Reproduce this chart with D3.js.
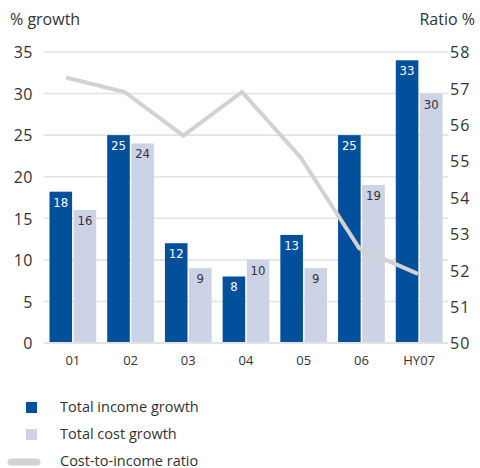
<!DOCTYPE html>
<html><head><meta charset="utf-8">
<script src="https://cdn.jsdelivr.net/npm/d3@7"></script>
<style>
body{margin:0;background:#fff;}
svg{display:block;}
</style></head>
<body>
<svg id="chart" width="480" height="468"></svg>
<script>
const categories = ["01","02","03","04","05","06","HY07"];
const incomeGrowth = [18.2,25,12,8,13,25,34];
const incomeLabels = ["18","25","12","8","13","25","33"];
const costGrowth = [16,24,9,10,9,19,30];
const costLabels = ["16","24","9","10","9","19","30"];
const costIncomeRatio = [57.3,56.9,55.7,56.9,55.1,52.6,51.9];
const leftTicks = [0,5,10,15,20,25,30,35];
const rightTicks = [50,51,52,53,54,55,56,57,58];
const legendLabels = ["Total income growth","Total cost growth","Cost-to-income ratio"];

const C_INCOME = "#00509b", C_COST = "#ccd3e6", C_LINE = "#d2d2d2", C_GRID = "#e3e3e3", C_TEXT = "#333";
const FONT = "'Open Sans', 'DejaVu Sans', sans-serif";
const NARROW = "'Liberation Sans Narrow','DejaVu Sans Condensed', sans-serif";

const svg = d3.select("#chart");
const pLeft = 44, pRight = 448, pTop = 52, pBottom = 343;

const x = d3.scaleBand().domain(categories).range([pLeft, pRight]).paddingInner(0).paddingOuter(0);
const sub = d3.scaleBand().domain(["income","cost"]).range([5.5, x.bandwidth()-5.5]).paddingInner(0.065);
const y = d3.scaleLinear().domain([0,35]).range([pBottom, pTop]);
const y2 = d3.scaleLinear().domain([50,58]).range([pBottom, pTop]);
const xl = d3.scalePoint().domain(categories).range([pLeft+22, pRight-30]);

// grid
svg.append("g").selectAll("line").data(leftTicks).join("line")
  .attr("x1", pLeft).attr("x2", pRight)
  .attr("y1", d=>y(d)).attr("y2", d=>y(d))
  .attr("stroke", C_GRID).attr("stroke-width", 1.6);

// left axis
const ax = d3.axisLeft(y).tickValues(leftTicks).tickSize(0).tickPadding(10);
const gl = svg.append("g").attr("transform", `translate(${pLeft},0)`).call(ax);
gl.select(".domain").remove();
gl.selectAll("text").attr("font-family", FONT).attr("font-size", 16).attr("fill", C_TEXT).attr("x", -11).attr("dy","0.36em").attr("letter-spacing", 0.5);

// right axis
const ax2 = d3.axisRight(y2).tickValues(rightTicks).tickSize(0).tickPadding(8);
const gr = svg.append("g").attr("transform", `translate(${pRight},0)`).call(ax2);
gr.select(".domain").remove();
gr.selectAll("text").attr("font-family", FONT).attr("font-size", 16).attr("fill", C_TEXT).attr("x", 2).attr("dy","0.36em").attr("letter-spacing", 1);

// bottom axis
const ax3 = d3.axisBottom(x).tickSize(0).tickPadding(10);
const gb = svg.append("g").attr("transform", `translate(0,${pBottom})`).call(ax3);
gb.select(".domain").remove();
gb.selectAll("text").attr("font-family", FONT).attr("font-size", 13).attr("fill", C_TEXT).attr("dy","0.9em");

// bars
const groups = svg.append("g").selectAll("g").data(categories).join("g")
  .attr("transform", d=>`translate(${x(d)},0)`);
groups.append("rect").attr("x", sub("income")).attr("width", sub.bandwidth())
  .attr("y", (d,i)=>y(incomeGrowth[i])).attr("height", (d,i)=>y(0)-y(incomeGrowth[i])).attr("fill", C_INCOME);
groups.append("rect").attr("x", sub("cost")).attr("width", sub.bandwidth())
  .attr("y", (d,i)=>y(costGrowth[i])).attr("height", (d,i)=>y(0)-y(costGrowth[i])).attr("fill", C_COST);
groups.append("text").attr("x", sub("income")+sub.bandwidth()/2).attr("y", (d,i)=>y(incomeGrowth[i])+15)
  .attr("text-anchor","middle").attr("font-family", NARROW).attr("font-size", 13).attr("fill","#fff")
  .text((d,i)=>incomeLabels[i]);
groups.append("text").attr("x", sub("cost")+sub.bandwidth()/2).attr("y", (d,i)=>y(costGrowth[i])+15)
  .attr("text-anchor","middle").attr("font-family", NARROW).attr("font-size", 13).attr("fill","#333")
  .text((d,i)=>costLabels[i]);

// baseline
svg.append("line").attr("x1", pLeft).attr("x2", pRight).attr("y1", y(0)).attr("y2", y(0))
  .attr("stroke", C_GRID).attr("stroke-width", 2);

// line
const line = d3.line().x((d,i)=>xl(categories[i])).y(d=>y2(d));
svg.append("path").datum(costIncomeRatio).attr("d", line)
  .attr("fill","none").attr("stroke", C_LINE).attr("stroke-width", 4).attr("stroke-linejoin","miter");

// titles
svg.append("text").attr("x", 10).attr("y", 25).attr("font-family", FONT).attr("font-size", 16).attr("fill", C_TEXT).text("% growth");
svg.append("text").attr("x", 475).attr("y", 25).attr("text-anchor","end").attr("font-family", FONT).attr("font-size", 16).attr("fill", C_TEXT).text("Ratio %");

// legend
const lg = svg.append("g");
lg.append("rect").attr("x", 26).attr("y", 402).attr("width", 11).attr("height", 11).attr("fill", C_INCOME);
lg.append("rect").attr("x", 26).attr("y", 429).attr("width", 11).attr("height", 11).attr("fill", C_COST);
lg.append("line").attr("x1", 11).attr("x2", 37).attr("y1", 462).attr("y2", 462).attr("stroke", C_LINE).attr("stroke-width", 7).attr("stroke-linecap","round");
lg.selectAll("text").data(legendLabels).join("text")
  .attr("x", 60).attr("y", (d,i)=>411.5 + i*27)
  .attr("font-family", FONT).attr("font-size", 14.5).attr("fill", C_TEXT).text(d=>d);
</script>
</body></html>
